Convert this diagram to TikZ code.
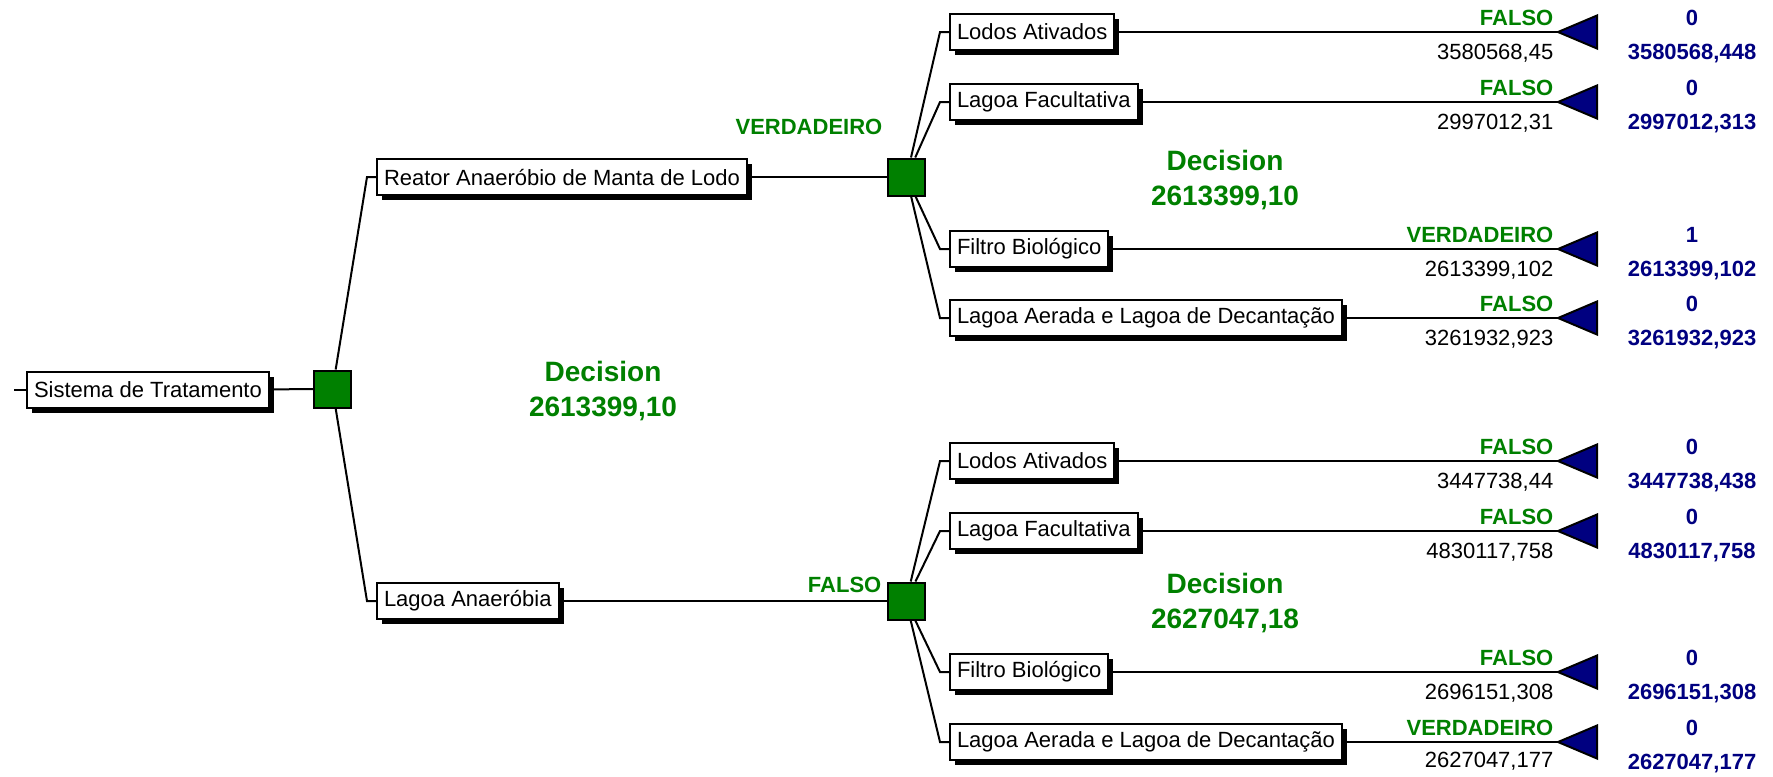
\documentclass[tikz,border=0pt]{standalone}
\usepackage{fontspec}
\setmainfont{Liberation Sans}
\usepackage{xcolor}
\usepackage{tikz}
\usetikzlibrary{shadows}
\definecolor{decgreen}{RGB}{0,128,0}
\definecolor{endnavy}{RGB}{0,0,128}
\tikzstyle{optnode}=[black, draw=black, line width=0.02cm, shape=rectangle, fill=white, minimum height=0.36cm, inner xsep=0.07cm, inner ysep=0pt, anchor=west, font=\fontsize{6.26}{7.5}\selectfont, drop shadow={shadow xshift=0.05cm, shadow yshift=-0.05cm, fill=black, opacity=1}]
\tikzstyle{decnode}=[draw=black, line width=0.02cm, shape=rectangle, fill=decgreen, minimum size=0.37cm, inner sep=0pt]
\tikzstyle{endnode}=[draw=black, line width=0.02cm, fill=endnavy]
\tikzstyle{branch}=[line width=0.02cm, color=black]
\tikzstyle{choicelabel}=[text=decgreen, inner sep=0pt, anchor=base east, font=\fontsize{6.26}{7.5}\selectfont\bfseries]
\tikzstyle{costlabel}=[text=black, inner sep=0pt, anchor=base east, font=\fontsize{6.26}{7.5}\selectfont]
\tikzstyle{endlabel}=[text=endnavy, inner sep=0pt, anchor=base, font=\fontsize{6.26}{7.5}\selectfont\bfseries]
\tikzstyle{valuelabel}=[text=decgreen, inner sep=0pt, align=center, font=\fontsize{7.97}{9.96}\selectfont\bfseries]

\begin{document}
\begin{tikzpicture}
\useasboundingbox (0,0) rectangle (17.73,-7.76);

% root
\coordinate (start) at (0.14,-3.90);
\node [optnode] (sistema) at (0.26,-3.90) {Sistema de Tratamento};
\node [decnode] (sqroot) at (3.325,-3.89) {};
\node [valuelabel] (valroot) at (6.03,-3.915) {Decision\\2613399,10};

% first level
\node [optnode] (reator) at (3.76,-1.77) {Reator Anaeróbio de Manta de Lodo};
\node [optnode] (anaerobia) at (3.76,-6.01) {Lagoa Anaeróbia};
\node [decnode] (squp) at (9.065,-1.77) {};
\node [decnode] (sqlow) at (9.06,-6.01) {};
\node [choicelabel] (chreator) at (8.83,-1.34) {VERDADEIRO};
\node [choicelabel] (chanaerobia) at (8.82,-5.92) {FALSO};
\node [valuelabel] (valup) at (12.25,-1.80) {Decision\\2613399,10};
\node [valuelabel] (vallow) at (12.25,-6.03) {Decision\\2627047,18};

\draw[branch] (start) -- (sistema);
\draw[branch] (sistema) -- (sqroot);
\draw[branch] (reator.west) -- ++(-0.09,0) -- (sqroot);
\draw[branch] (anaerobia.west) -- ++(-0.09,0) -- (sqroot);
\draw[branch] (reator) -- (squp);
\draw[branch] (anaerobia) -- (sqlow);

% upper options
\node [optnode] (uplodos) at (9.49,-0.32) {Lodos Ativados};
\node [optnode] (upfacult) at (9.49,-1.02) {Lagoa Facultativa};
\node [optnode] (upfiltro) at (9.49,-2.49) {Filtro Biológico};
\node [optnode] (upaerada) at (9.49,-3.18) {Lagoa Aerada e Lagoa de Decantação};
\coordinate (tip1) at (15.58,-0.32);
\coordinate (tip2) at (15.58,-1.02);
\coordinate (tip3) at (15.58,-2.49);
\coordinate (tip4) at (15.58,-3.18);

% lower options
\node [optnode] (lowlodos) at (9.49,-4.61) {Lodos Ativados};
\node [optnode] (lowfacult) at (9.49,-5.31) {Lagoa Facultativa};
\node [optnode] (lowfiltro) at (9.49,-6.72) {Filtro Biológico};
\node [optnode] (lowaerada) at (9.49,-7.42) {Lagoa Aerada e Lagoa de Decantação};
\coordinate (tip5) at (15.58,-4.61);
\coordinate (tip6) at (15.58,-5.31);
\coordinate (tip7) at (15.58,-6.72);
\coordinate (tip8) at (15.58,-7.42);

\draw[branch] (uplodos.west) -- ++(-0.09,0) -- (squp);
\draw[branch] (upfacult.west) -- ++(-0.09,0) -- (squp);
\draw[branch] (upfiltro.west) -- ++(-0.09,0) -- (squp);
\draw[branch] (upaerada.west) -- ++(-0.09,0) -- (squp);
\draw[branch] (lowlodos.west) -- ++(-0.09,0) -- (sqlow);
\draw[branch] (lowfacult.west) -- ++(-0.09,0) -- (sqlow);
\draw[branch] (lowfiltro.west) -- ++(-0.09,0) -- (sqlow);
\draw[branch] (lowaerada.west) -- ++(-0.09,0) -- (sqlow);

\draw[branch] (uplodos) -- (tip1);
\draw[branch] (upfacult) -- (tip2);
\draw[branch] (upfiltro) -- (tip3);
\draw[branch] (upaerada) -- (tip4);
\draw[branch] (lowlodos) -- (tip5);
\draw[branch] (lowfacult) -- (tip6);
\draw[branch] (lowfiltro) -- (tip7);
\draw[branch] (lowaerada) -- (tip8);

% end triangles
\filldraw[endnode] (tip1) -- ++(0.39,0.165) -- ++(0,-0.33) -- cycle;
\filldraw[endnode] (tip2) -- ++(0.39,0.165) -- ++(0,-0.33) -- cycle;
\filldraw[endnode] (tip3) -- ++(0.39,0.165) -- ++(0,-0.33) -- cycle;
\filldraw[endnode] (tip4) -- ++(0.39,0.165) -- ++(0,-0.33) -- cycle;
\filldraw[endnode] (tip5) -- ++(0.39,0.165) -- ++(0,-0.33) -- cycle;
\filldraw[endnode] (tip6) -- ++(0.39,0.165) -- ++(0,-0.33) -- cycle;
\filldraw[endnode] (tip7) -- ++(0.39,0.165) -- ++(0,-0.33) -- cycle;
\filldraw[endnode] (tip8) -- ++(0.39,0.165) -- ++(0,-0.33) -- cycle;

% branch labels
\node [choicelabel] (ch1) at (15.54,-0.255) {FALSO};
\node [choicelabel] (ch2) at (15.54,-0.955) {FALSO};
\node [choicelabel] (ch3) at (15.54,-2.425) {VERDADEIRO};
\node [choicelabel] (ch4) at (15.54,-3.115) {FALSO};
\node [choicelabel] (ch5) at (15.54,-4.545) {FALSO};
\node [choicelabel] (ch6) at (15.54,-5.245) {FALSO};
\node [choicelabel] (ch7) at (15.54,-6.655) {FALSO};
\node [choicelabel] (ch8) at (15.54,-7.355) {VERDADEIRO};

\node [costlabel] (cost1) at (15.54,-0.59) {3580568,45};
\node [costlabel] (cost2) at (15.54,-1.29) {2997012,31};
\node [costlabel] (cost3) at (15.54,-2.76) {2613399,102};
\node [costlabel] (cost4) at (15.54,-3.45) {3261932,923};
\node [costlabel] (cost5) at (15.54,-4.88) {3447738,44};
\node [costlabel] (cost6) at (15.54,-5.58) {4830117,758};
\node [costlabel] (cost7) at (15.54,-6.99) {2696151,308};
\node [costlabel] (cost8) at (15.54,-7.67) {2627047,177};

\node [endlabel] (prob1) at (16.92,-0.255) {0};
\node [endlabel] (prob2) at (16.92,-0.955) {0};
\node [endlabel] (prob3) at (16.92,-2.425) {1};
\node [endlabel] (prob4) at (16.92,-3.115) {0};
\node [endlabel] (prob5) at (16.92,-4.545) {0};
\node [endlabel] (prob6) at (16.92,-5.245) {0};
\node [endlabel] (prob7) at (16.92,-6.655) {0};
\node [endlabel] (prob8) at (16.92,-7.355) {0};

\node [endlabel] (pay1) at (16.92,-0.59) {3580568,448};
\node [endlabel] (pay2) at (16.92,-1.29) {2997012,313};
\node [endlabel] (pay3) at (16.92,-2.76) {2613399,102};
\node [endlabel] (pay4) at (16.92,-3.45) {3261932,923};
\node [endlabel] (pay5) at (16.92,-4.88) {3447738,438};
\node [endlabel] (pay6) at (16.92,-5.58) {4830117,758};
\node [endlabel] (pay7) at (16.92,-6.99) {2696151,308};
\node [endlabel] (pay8) at (16.92,-7.69) {2627047,177};
\end{tikzpicture}
\end{document}
